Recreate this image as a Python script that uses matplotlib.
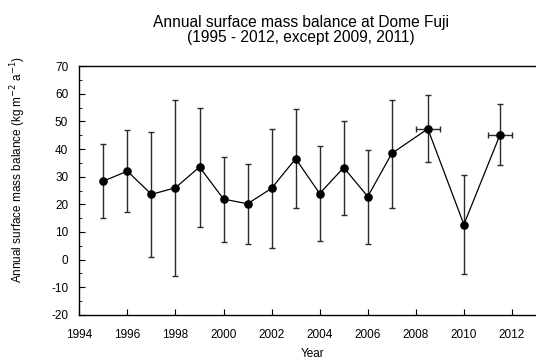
import matplotlib
matplotlib.use('Agg')
import matplotlib.pyplot as plt
from matplotlib.ticker import MultipleLocator

plt.rcParams['font.family'] = ['Liberation Sans', 'DejaVu Sans']
plt.rcParams['axes.unicode_minus'] = False

years = [1995, 1996, 1997, 1998, 1999, 2000, 2001, 2002, 2003, 2004,
         2005, 2006, 2007, 2008.5, 2010, 2011.5]
smb = [28.4, 32.0, 23.6, 26.0, 33.5, 21.9, 20.2, 25.8, 36.5, 23.9,
       33.3, 22.8, 38.4, 47.3, 12.7, 45.1]
err_hi = [41.7, 46.8, 46.3, 57.8, 55.0, 37.1, 34.6, 47.4, 54.5, 41.1,
          50.3, 39.8, 57.8, 59.4, 30.5, 56.2]
err_lo = [15.1, 17.2, 0.8, -5.8, 11.9, 6.5, 5.6, 4.2, 18.6, 6.6,
          16.2, 5.7, 18.6, 35.3, -5.2, 34.1]
xerr = [0, 0, 0, 0, 0, 0, 0, 0, 0, 0, 0, 0, 0, 0.5, 0, 0.5]

yerr = [[v - lo for v, lo in zip(smb, err_lo)],
        [hi - v for v, hi in zip(smb, err_hi)]]

fig = plt.figure(figsize=(5.36, 3.59), dpi=100)
ax = fig.add_axes([0.148, 0.1226, 0.852, 0.6935])

ax.errorbar(years, smb, yerr=yerr, xerr=xerr, fmt='-o', color='black',
            ecolor='#2a2a2a', elinewidth=1, capsize=2.3, capthick=1,
            markersize=5.2, linewidth=0.9)

ax.set_xlim(1994, 2013)
ax.set_ylim(-20, 70)
ax.xaxis.set_major_locator(MultipleLocator(2))
ax.yaxis.set_major_locator(MultipleLocator(10))
ax.yaxis.set_minor_locator(MultipleLocator(5))
ax.tick_params(direction='in', labelsize=8.5, length=4)
ax.tick_params(which='minor', direction='in', length=2.5)
ax.tick_params(axis='x', pad=10)
ax.tick_params(axis='y', pad=8)
ax.spines['right'].set_visible(False)
for s in ax.spines.values():
    s.set_linewidth(1)

fig.text(313 / 536, 1 - 354 / 359, 'Year', ha='center', va='center', fontsize=8.5)
fig.text(18 / 536, 1 - 170 / 359, 'Annual surface mass balance (kg m$^{-2}$ a$^{-1}$)',
         ha='center', va='center', rotation=90, fontsize=8.5)

fig.text(301 / 536, 1 - 30 / 359, 'Annual surface mass balance at Dome Fuji\n(1995 - 2012, except 2009, 2011)',
         ha='center', va='center', fontsize=11.2, linespacing=1.04)

fig.savefig('out.png', dpi=100)
